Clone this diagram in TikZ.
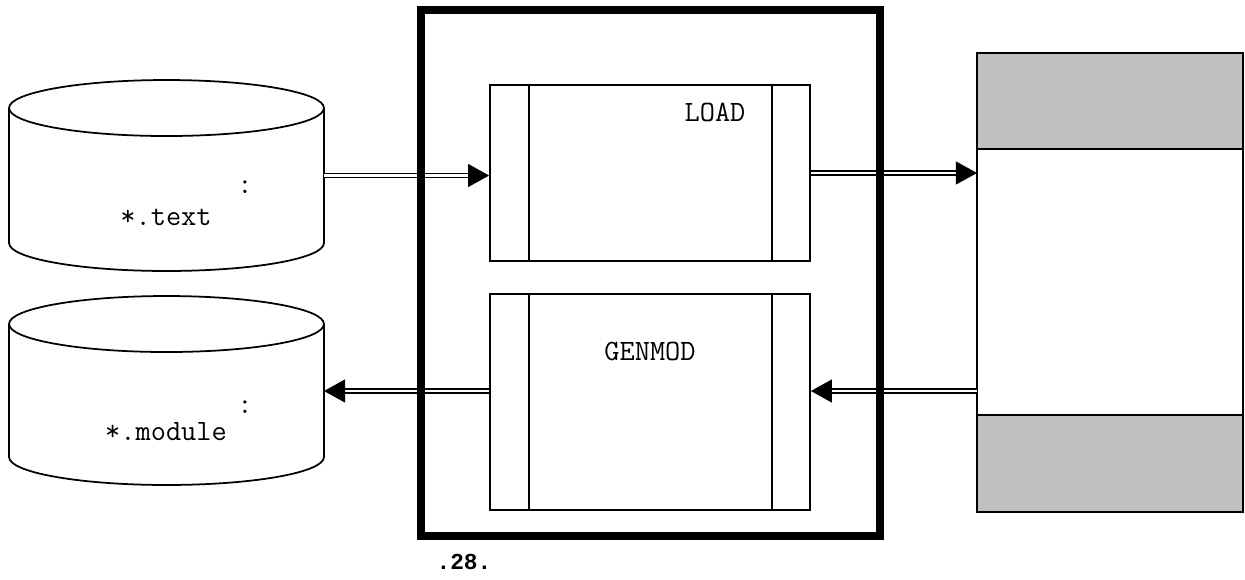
\documentclass[tikz,border=0pt]{standalone}
\usepackage{fontspec}
\newfontfamily\boldmono{Liberation Mono}
\usetikzlibrary{shapes.geometric, arrows.meta, positioning, calc}
\definecolor{bandgray}{HTML}{C0C0C0}
% outline of a disk drum round a named body node
\newcommand{\drumoutline}[1]{%
    \draw[line width=1pt] (#1.north west) -- (#1.south west)
        arc[start angle=180, end angle=360, x radius=3.15cm, y radius=0.56cm] -- (#1.north east)
        (#1.north) ellipse[x radius=3.15cm, y radius=0.56cm];}

\begin{document}
\begin{tikzpicture}[x=0.02cm, y=-0.02cm,
    every node/.style={font=\ttfamily\fontsize{16.8}{19}\selectfont},
    drum/.style={rectangle, minimum width=6.3cm, inner sep=0pt, outer sep=0pt},
    procbox/.style={draw, line width=1pt, rectangle, minimum width=6.4cm, inner sep=0pt,
        path picture={\draw[line width=1pt]
            ([xshift=0.78cm]path picture bounding box.north west) -- ([xshift=0.78cm]path picture bounding box.south west)
            ([xshift=-0.76cm]path picture bounding box.north east) -- ([xshift=-0.76cm]path picture bounding box.south east);}},
    band/.style={draw, line width=1pt, rectangle, minimum width=5.32cm, inner sep=0pt, outer sep=0pt},
    flow/.style={draw, line width=1pt, double, double distance=1.3pt, -{Triangle[length=12pt, width=13pt]}}]
    \useasboundingbox (0,0) rectangle (1245,579);

    % data sets on disk
    \node (textdb) [drum, minimum height=2.7cm] at (166.5,175.5) {};
    \drumoutline{textdb}
    \node at (245,187) {:};
    \node at (166,217) {*.text};
    \node (moddb) [drum, minimum height=2.66cm] at (166.5,390.5) {};
    \drumoutline{moddb}
    \node at (245,407) {:};
    \node at (166,432) {*.module};

    % the two programs
    \node (load) [procbox, minimum height=3.52cm] at (650,173) {};
    \node at (715,112) {LOAD};
    \node (genmod) [procbox, minimum height=4.32cm] at (650,402) {};
    \node at (650,351) {GENMOD};

    % memory
    \node (memtop) [band, fill=bandgray, minimum height=1.92cm] at (1110,101) {};
    \node (memmid) [band, below=0pt of memtop, minimum height=5.32cm] {};
    \node (membot) [band, fill=bandgray, below=0pt of memmid, minimum height=1.94cm] {};

    \coordinate (lowrow) at (0,391);
    \draw[flow] (textdb.east) -- (textdb.east -| load.west);
    \draw[flow] (load.east) -- (load.east -| memmid.west);
    \draw[flow] (memmid.west |- lowrow) -- (genmod.east |- lowrow);
    \draw[flow] (genmod.west |- lowrow) -- (moddb.east |- lowrow);

    \node (tools) [draw, line width=4.55pt, minimum width=9.18cm, minimum height=10.52cm, inner sep=0pt] at (650.5,273) {};
    \node (figno) [font=\boldmono\bfseries\fontsize{13}{15}\selectfont] at (464,562) {.28.};
\end{tikzpicture}
\end{document}
